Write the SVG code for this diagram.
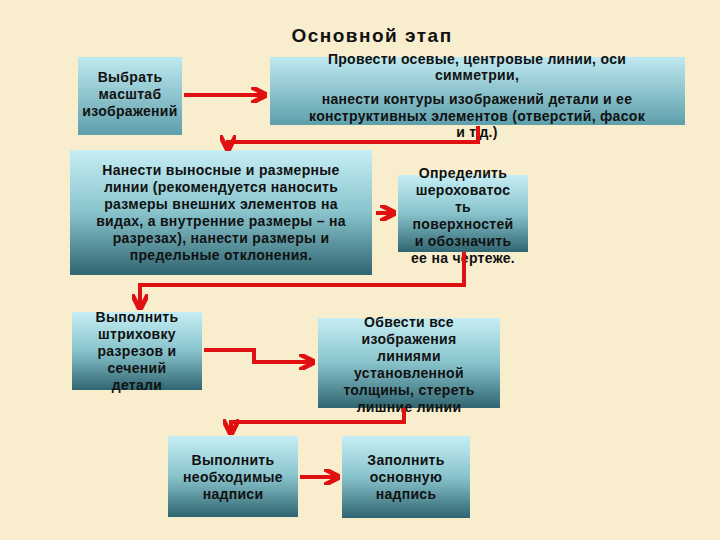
<svg xmlns="http://www.w3.org/2000/svg" width="720" height="540" viewBox="0 0 720 540">
<defs>
<linearGradient id="g" x1="0" y1="0" x2="0" y2="1">
<stop offset="0" stop-color="#c6eef4"/><stop offset="0.5" stop-color="#88c3cc"/><stop offset="1" stop-color="#2f6570"/>
</linearGradient>
<linearGradient id="g2" x1="0" y1="0" x2="0" y2="1">
<stop offset="0" stop-color="#bfe9f0"/><stop offset="1" stop-color="#5d9fab"/>
</linearGradient>
<marker id="a" viewBox="0 0 10 10" refX="8" refY="5" markerWidth="4" markerHeight="4" orient="auto"><path d="M0,0 L10,5 L0,10" fill="none" stroke="#e01010" stroke-width="3"/></marker>
</defs>
<style>
.b{fill:url(#g)}
.b2{fill:url(#g2)}
text{font-family:"Liberation Sans",Arial,sans-serif;font-weight:bold;font-size:14px;fill:#111;text-anchor:middle;letter-spacing:0.3px}
.c path{fill:none;stroke:#e01010;stroke-width:4;marker-end:url(#a)}
</style>
<rect width="720" height="540" fill="#f8edcc"/>
<text x="372" y="42" style="font-size:19px;letter-spacing:1.5px">Основной этап</text>
<g id="n1"><rect class="b2" x="78" y="57" width="104" height="78"/><text x="130" y="82">Выбрать</text><text x="130" y="99">масштаб</text><text x="130" y="116">изображений</text></g>
<g id="n2"><rect class="b2" x="270" y="57" width="415" height="68"/><text x="477" y="64">Провести осевые, центровые линии, оси</text><text x="477" y="80">симметрии,</text><text x="477" y="104">нанести контуры изображений  детали  и  ее</text><text x="477" y="121">конструктивных  элементов  (отверстий,  фасок</text><text x="477" y="137">и т.д.)</text></g>
<g id="n3"><rect class="b" x="70" y="150" width="302" height="125"/><text x="221" y="175">Нанести выносные и размерные</text><text x="221" y="192">линии (рекомендуется наносить</text><text x="221" y="209">размеры внешних элементов  на</text><text x="221" y="226">видах, а внутренние размеры – на</text><text x="221" y="243">разрезах), нанести размеры и</text><text x="221" y="260">предельные отклонения.</text></g>
<g id="n4"><rect class="b" x="398" y="175" width="130" height="77"/><text x="463" y="178">Определить</text><text x="463" y="195">шероховатос</text><text x="463" y="212">ть</text><text x="463" y="229">поверхностей</text><text x="463" y="246">и обозначить</text><text x="463" y="263">ее на чертеже.</text></g>
<g id="n5"><rect class="b" x="72" y="312" width="130" height="78"/><text x="137" y="322">Выполнить</text><text x="137" y="339">штриховку</text><text x="137" y="356">разрезов и</text><text x="137" y="373">сечений</text><text x="137" y="390">детали</text></g>
<g id="n6"><rect class="b" x="318" y="318" width="182" height="90"/><text x="409" y="327">Обвести все</text><text x="409" y="344">изображения</text><text x="409" y="361">линиями</text><text x="409" y="378">установленной</text><text x="409" y="395">толщины, стереть</text><text x="409" y="412">лишние линии</text></g>
<g id="n7"><rect class="b" x="168" y="436" width="130" height="81"/><text x="233" y="465">Выполнить</text><text x="233" y="482">необходимые</text><text x="233" y="499">надписи</text></g>
<g id="n8"><rect class="b" x="342" y="436" width="128" height="82"/><text x="406" y="465">Заполнить</text><text x="406" y="482">основную</text><text x="406" y="499">надпись</text></g>
<g class="c" id="connectors">
<path d="M184,95 H264"/>
<path d="M478,126 V142 H228 V148"/>
<path d="M376,213 H393"/>
<path d="M464,252 V285 H140 V307"/>
<path d="M204,350 H254 V362 H312"/>
<path d="M404,408 V422 H231 V432"/>
<path d="M300,477 H337"/>
</g>
</svg>
